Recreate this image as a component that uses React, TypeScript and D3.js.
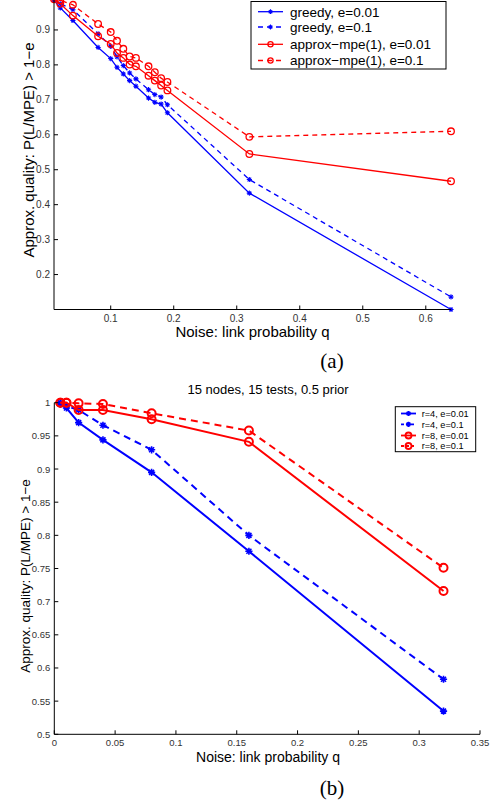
import React from "react";
import * as d3 from "d3";

// ---------- Data: panel (a) ----------
const qA = [0.01, 0.02, 0.04, 0.08, 0.1, 0.11, 0.12, 0.13, 0.14, 0.16, 0.17, 0.18, 0.19, 0.32, 0.64];
const greedy001 = [0.985, 0.963, 0.927, 0.85, 0.818, 0.793, 0.774, 0.755, 0.739, 0.705, 0.693, 0.688, 0.663, 0.433, 0.1];
const greedy01 = [0.99, 0.975, 0.958, 0.889, 0.853, 0.823, 0.798, 0.777, 0.76, 0.729, 0.715, 0.708, 0.686, 0.472, 0.136];
const mpe001 = [0.988, 0.975, 0.941, 0.882, 0.86, 0.834, 0.82, 0.801, 0.796, 0.769, 0.755, 0.741, 0.727, 0.545, 0.467];
const mpe01 = [0.995, 0.985, 0.972, 0.917, 0.894, 0.869, 0.846, 0.824, 0.82, 0.796, 0.779, 0.762, 0.751, 0.594, 0.61];
const legendA = ["greedy, e=0.01", "greedy, e=0.1", "approx\u2212mpe(1), e=0.01", "approx\u2212mpe(1), e=0.1"];
const xTicksA = [0.1, 0.2, 0.3, 0.4, 0.5, 0.6];
const yTicksA = [0.2, 0.3, 0.4, 0.5, 0.6, 0.7, 0.8, 0.9];

// ---------- Data: panel (b) ----------
const qB = [0.005, 0.01, 0.02, 0.04, 0.08, 0.16, 0.32];
const r4e001 = [0.998, 0.992, 0.97, 0.944, 0.895, 0.776, 0.535];
const r4e01 = [1.0, 0.995, 0.989, 0.966, 0.929, 0.8, 0.583];
const r8e001 = [1.0, 1.0, 0.989, 0.989, 0.975, 0.941, 0.716];
const r8e01 = [1.0, 1.0, 0.999, 0.998, 0.984, 0.958, 0.751];
const legendB = ["r=4, e=0.01", "r=4, e=0.1", "r=8, e=0.01", "r=8, e=0.1"];
const xTicksB = [0, 0.05, 0.1, 0.15, 0.2, 0.25, 0.3, 0.35];
const yTicksB = [0.5, 0.55, 0.6, 0.65, 0.7, 0.75, 0.8, 0.85, 0.9, 0.95, 1];

const titleB = "15 nodes, 15 tests, 0.5 prior";
const yLabel = "Approx. quality: P(L/MPE) > 1\u2212e";
const xLabel = "Noise: link probability q";

const BLUE = "#0000ff";
const RED = "#ff0000";
const SANS = "'Liberation Sans', Arial, Helvetica, sans-serif";
const SERIF = "'Liberation Serif', 'Times New Roman', serif";

function Star({ x, y, s, color, w }: { x: number; y: number; s: number; color: string; w: number }) {
  const d = `M${x - s},${y}L${x + s},${y}M${x},${y - s}L${x},${y + s}M${x - s * 0.7},${y - s * 0.7}L${x + s * 0.7},${y + s * 0.7}M${x - s * 0.7},${y + s * 0.7}L${x + s * 0.7},${y - s * 0.7}`;
  return <path d={d} stroke={color} strokeWidth={w} fill="none" />;
}

function Circ({ x, y, r, color, w }: { x: number; y: number; r: number; color: string; w: number }) {
  return <circle cx={x} cy={y} r={r} stroke={color} strokeWidth={w} fill="none" />;
}

type Series = { vals: number[]; color: string; dashed: boolean; marker: "star" | "circle" };

function Panel(props: {
  xs: number[];
  series: Series[];
  x: d3.ScaleLinear<number, number>;
  y: d3.ScaleLinear<number, number>;
  xTicks: number[];
  yTicks: number[];
  xFmt: (v: number) => string;
  yFmt: (v: number) => string;
  lw: number;
  dash: string;
  ms: number;
  mr: number;
  tickFont: number;
}) {
  const { xs, series, x, y, xTicks, yTicks, xFmt, yFmt, lw, dash, ms, mr, tickFont } = props;
  const [x0, x1] = x.range();
  const [y0] = y.range();
  const line = d3
    .line<number>()
    .x((_, i) => x(xs[i]))
    .y((v) => y(v));
  return (
    <g>
      {series.map((s, k) => (
        <g key={k}>
          <path d={line(s.vals) || ""} fill="none" stroke={s.color} strokeWidth={lw} strokeDasharray={s.dashed ? dash : undefined} />
          {s.vals.map((v, i) =>
            s.marker === "star" ? (
              <Star key={i} x={x(xs[i])} y={y(v)} s={ms} color={s.color} w={lw * 0.8} />
            ) : (
              <Circ key={i} x={x(xs[i])} y={y(v)} r={mr} color={s.color} w={lw} />
            )
          )}
        </g>
      ))}
      {/* axes */}
      <line x1={x0} x2={x1} y1={y0} y2={y0} stroke="#000" strokeWidth={1} />
      <line x1={x0} x2={x0} y1={y0} y2={Math.max(y.range()[1], 0)} stroke="#000" strokeWidth={1} />
      {xTicks.map((t) => (
        <g key={"x" + t}>
          <line x1={x(t)} x2={x(t)} y1={y0} y2={y0 - 4} stroke="#000" />
          <text x={x(t)} y={y0 + 12} fontSize={tickFont} fontFamily={SANS} fill="#333" textAnchor="middle">
            {xFmt(t)}
          </text>
        </g>
      ))}
      {yTicks.map((t) => (
        <g key={"y" + t}>
          <line x1={x0} x2={x0 + 4} y1={y(t)} y2={y(t)} stroke="#000" />
          <text x={x0 - 4} y={y(t) + 3.5} fontSize={tickFont} fontFamily={SANS} fill="#333" textAnchor="end">
            {yFmt(t)}
          </text>
        </g>
      ))}
    </g>
  );
}

function Legend(props: {
  x: number;
  y: number;
  w: number;
  h: number;
  labels: string[];
  series: Series[];
  rowY: number[];
  sx0: number;
  sx1: number;
  tx: number;
  font: number;
  lw: number;
  dash: string;
  ms: number;
  mr: number;
}) {
  const { x, y, w, h, labels, series, rowY, sx0, sx1, tx, font, lw, dash, ms, mr } = props;
  return (
    <g>
      <rect x={x} y={y} width={w} height={h} fill="#fff" stroke="#000" strokeWidth={1} />
      {labels.map((l, i) => {
        const s = series[i];
        const cy = rowY[i];
        const cx = (sx0 + sx1) / 2;
        return (
          <g key={i}>
            <line x1={sx0} x2={sx1} y1={cy} y2={cy} stroke={s.color} strokeWidth={lw} strokeDasharray={s.dashed ? dash : undefined} />
            {s.marker === "star" ? (
              <Star x={cx} y={cy} s={ms} color={s.color} w={lw * 0.8} />
            ) : (
              <Circ x={cx} y={cy} r={mr} color={s.color} w={lw} />
            )}
            <text x={tx} y={cy + font * 0.36} fontSize={font} fontFamily={SANS} fill="#000">
              {l}
            </text>
          </g>
        );
      })}
    </g>
  );
}

export default function App() {
  // Panel (a)
  const xA = d3.scaleLinear().domain([0.01, 0.64]).range([54, 451]);
  const yA = d3.scaleLinear().domain([0.1, 1.0]).range([309.5, -5]);
  const seriesA: Series[] = [
    { vals: greedy001, color: BLUE, dashed: false, marker: "star" },
    { vals: greedy01, color: BLUE, dashed: true, marker: "star" },
    { vals: mpe001, color: RED, dashed: false, marker: "circle" },
    { vals: mpe01, color: RED, dashed: true, marker: "circle" },
  ];
  // Panel (b)
  const xB = d3.scaleLinear().domain([0, 0.35]).range([54.3, 480]);
  const yB = d3.scaleLinear().domain([0.5, 1.0]).range([734.3, 402.7]);
  const seriesB: Series[] = [
    { vals: r4e001, color: BLUE, dashed: false, marker: "star" },
    { vals: r4e01, color: BLUE, dashed: true, marker: "star" },
    { vals: r8e001, color: RED, dashed: false, marker: "circle" },
    { vals: r8e01, color: RED, dashed: true, marker: "circle" },
  ];
  const fmt = (v: number) => String(+v.toFixed(2));

  return (
    <svg
      width={496}
      height={805}
      style={{ position: "absolute", left: 0, top: 0, background: "#fff" }}
      xmlns="http://www.w3.org/2000/svg"
    >
      <rect x={0} y={0} width={496} height={805} fill="#fff" />
      <Panel xs={qA} series={seriesA} x={xA} y={yA} xTicks={xTicksA} yTicks={yTicksA} xFmt={fmt} yFmt={fmt} lw={1.3} dash="5,4" ms={2.6} mr={3.3} tickFont={10} />
      <Legend
        x={251}
        y={1.5}
        w={195}
        h={67.5}
        labels={legendA}
        series={seriesA}
        rowY={[11.7, 27, 44.3, 60.5]}
        sx0={258}
        sx1={283}
        tx={290}
        font={13.5}
        lw={1.3}
        dash="5,4"
        ms={2.4}
        mr={2.6}
      />
      <text transform="translate(34,150) rotate(-90)" textAnchor="middle" fontSize={15} fontFamily={SANS} fill="#000">
        {yLabel}
      </text>
      <text x={252.5} y={337} textAnchor="middle" fontSize={15} fontFamily={SANS} fill="#000">
        {xLabel}
      </text>
      <text x={332} y={368} textAnchor="middle" fontSize={21} fontFamily={SERIF} fill="#000">
        (a)
      </text>

      <Panel xs={qB} series={seriesB} x={xB} y={yB} xTicks={xTicksB} yTicks={yTicksB} xFmt={fmt} yFmt={fmt} lw={2} dash="7,5" ms={3.6} mr={4} tickFont={9.5} />
      <text x={268} y={394} textAnchor="middle" fontSize={13} fontFamily={SANS} fill="#000">
        {titleB}
      </text>
      <Legend
        x={395.3}
        y={406.7}
        w={80.4}
        h={45}
        labels={legendB}
        series={seriesB}
        rowY={[413.5, 424.3, 435.5, 446]}
        sx0={401}
        sx1={416}
        tx={421.7}
        font={9.2}
        lw={1.8}
        dash="3,2"
        ms={2.6}
        mr={3}
      />
      <text transform="translate(29.5,576) rotate(-90)" textAnchor="middle" fontSize={13.5} fontFamily={SANS} fill="#000">
        {yLabel}
      </text>
      <text x={268} y={761.5} textAnchor="middle" fontSize={14} fontFamily={SANS} fill="#000">
        {xLabel}
      </text>
      <text x={332} y={795} textAnchor="middle" fontSize={21} fontFamily={SERIF} fill="#000">
        (b)
      </text>
    </svg>
  );
}
